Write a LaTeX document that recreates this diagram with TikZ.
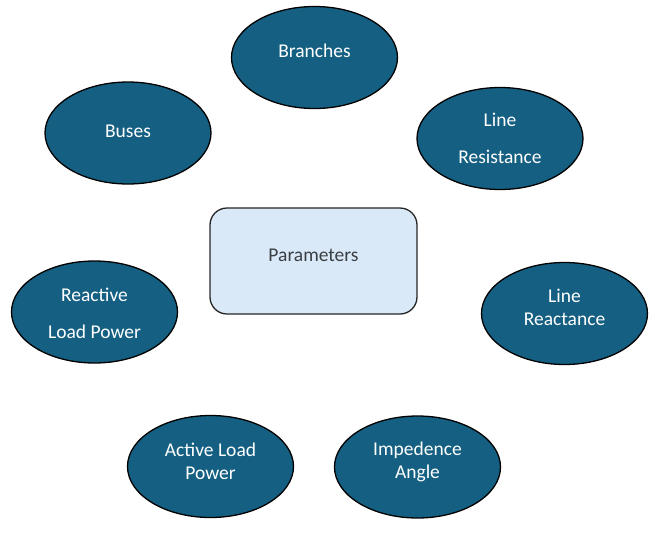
\documentclass[tikz,border=0pt]{standalone}
\usepackage{fontspec}
\setmainfont{Carlito}
\usetikzlibrary{shapes.geometric}
\definecolor{blobfill}{HTML}{156082}
\definecolor{boxfill}{HTML}{DAE9F8}
\definecolor{boxtext}{HTML}{3A3F44}
\tikzset{
  blob/.style={ellipse, draw=black, line width=1.3pt, fill=blobfill, inner sep=0pt,
    minimum width=166pt, minimum height=102pt},
  lbl/.style={text=white, font=\fontsize{19.5}{22}\selectfont, inner sep=0pt, anchor=center},
  parambox/.style={draw=black!85, line width=1.3pt, fill=boxfill, rounded corners=17pt,
    minimum width=207pt, minimum height=106pt, inner sep=0pt},
  boxlbl/.style={text=boxtext, font=\fontsize{19.5}{22}\selectfont, inner sep=0pt}
}
\begin{document}
\begin{tikzpicture}[x=1pt,y=-1pt]
\useasboundingbox (0,0) rectangle (649,539);
\node[parambox] (params) at (313.5,261) {};
\node[boxlbl] (params-t) at (313.5,255) {Parameters};

\node[blob] (branches) at (314.5,57.5) {};
\node[lbl] (branches-t) at (314.5,51) {Branches};

\node[blob] (buses) at (128,133) {};
\node[lbl] (buses-t) at (128,131) {Buses};

\node[blob] (lres) at (500,138.5) {};
\node[lbl] (lres-t1) at (500,120) {Line};
\node[lbl] (lres-t2) at (500,157) {Resistance};

\node[blob] (rlp) at (94.5,312) {};
\node[lbl] (rlp-t1) at (94.5,295) {Reactive};
\node[lbl] (rlp-t2) at (94.5,332) {Load Power};

\node[blob] (lreac) at (564.5,313.5) {};
\node[lbl] (lreac-t1) at (564.5,296) {Line};
\node[lbl] (lreac-t2) at (564.5,319) {Reactance};

\node[blob] (alp) at (210.5,466.5) {};
\node[lbl] (alp-t1) at (210.5,450) {Active Load};
\node[lbl] (alp-t2) at (210.5,473) {Power};

\node[blob] (imp) at (417.5,467) {};
\node[lbl] (imp-t1) at (417.5,450) {Impedence};
\node[lbl] (imp-t2) at (417.5,473) {Angle};
\end{tikzpicture}
\end{document}
